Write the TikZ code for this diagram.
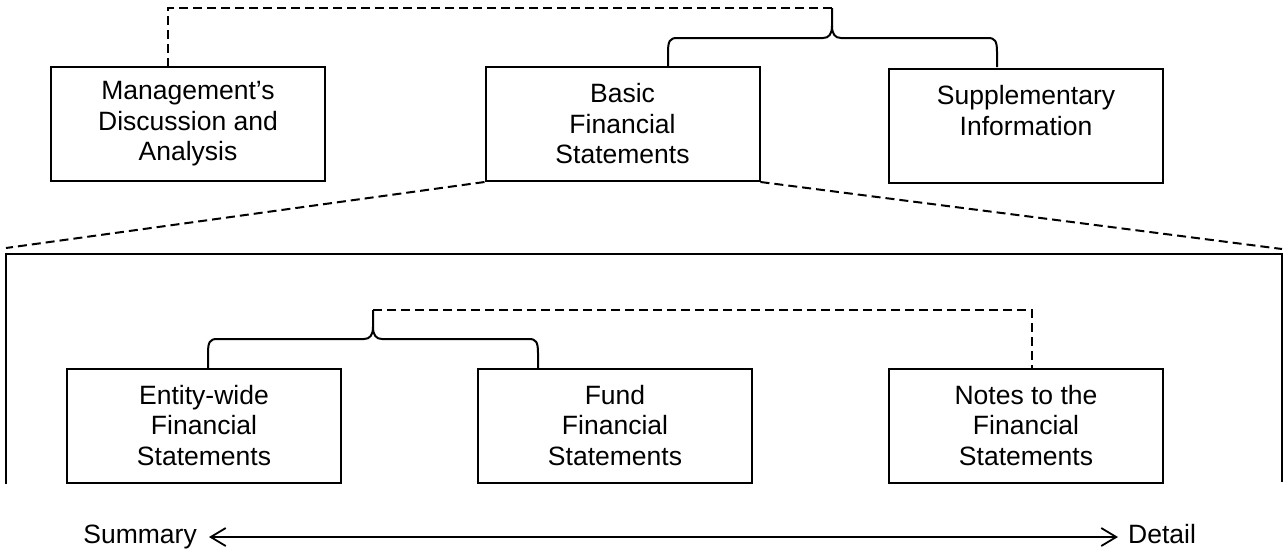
\documentclass[tikz,border=0pt]{standalone}
\usepackage{fontspec}
\setmainfont{Liberation Sans}
\usetikzlibrary{arrows.meta,calc}
\begin{document}
\begin{tikzpicture}[x=1pt,y=-1pt,
  box/.style={draw,line width=2pt,minimum width=274pt,minimum height=114pt,align=center,inner sep=0pt,font=\fontsize{26.5}{30.5}\selectfont},
  lbl/.style={inner sep=0pt,font=\fontsize{26.5}{30.5}\selectfont},
  dsh/.style={line width=2pt,dash pattern=on 9pt off 5pt},
  brc/.style={line width=2pt},
  frm/.style={line width=2pt},
  arr/.style={line width=1.8pt,{Straight Barb[length=15pt,width=18pt]}-{Straight Barb[length=15pt,width=18pt]}}]
\useasboundingbox (0,0) rectangle (1284,550);

% top row
\node[box] (mda) at (188,124) {Management’s\\Discussion and\\Analysis};
\node[box] (basic) at (622.5,124) {Basic\\Financial\\Statements};
\node[box] (supp) at (1026,125.5) {Supplementary\\Information\\\mbox{}};

% bottom row
\node[box] (entity) at (204,425.5) {Entity-wide\\Financial\\Statements};
\node[box] (fund) at (615,425.5) {Fund\\Financial\\Statements};
\node[box] (notes) at (1026,425.5) {Notes to the\\Financial\\Statements};

% frame
\coordinate (fbl) at (6,484);
\coordinate (ftl) at (6,254);
\coordinate (ftr) at (1282,254);
\coordinate (fbr) at (1282,482);
\draw[frm] (fbl) -- (ftl) -- (ftr) -- (fbr);

% slanted dashed lines
\coordinate (dl) at (6,248);
\coordinate (dr) at (1282,249);
\draw[dsh] (basic.south west) -- (dl);
\draw[dsh] (basic.south east) -- (dr);

% top brace
\coordinate (tt) at (832,8);
\coordinate (tbl) at (668,67);
\coordinate (tbr) at (997,67);
\draw[brc] (tbl) -- (668,52) .. controls (668,41) and (670,38) .. (677,38)
  -- (823,38) .. controls (829,38) and (832,34) .. (832,26) -- (tt);
\draw[brc] (832,26) .. controls (832,34) and (835,38) .. (841,38)
  -- (988,38) .. controls (995,38) and (997,41) .. (997,52) -- (tbr);
\draw[dsh] (tt) -| ($(mda.north)+(-20,0)$);

% bottom brace
\coordinate (bt) at (373,310);
\coordinate (bbl) at (208,368);
\coordinate (bbr) at (538,368);
\draw[brc] (bbl) -- (208,353) .. controls (208,342) and (210,339) .. (217,339)
  -- (364,339) .. controls (370,339) and (373,335) .. (373,327) -- (bt);
\draw[brc] (373,327) .. controls (373,335) and (376,339) .. (382,339)
  -- (529,339) .. controls (536,339) and (538,342) .. (538,353) -- (bbr);
\draw[dsh] (bt) -| ($(notes.north)+(6,0)$);

% summary / detail arrow
\node[lbl,anchor=base east] (summary) at (197,543) {Summary};
\node[lbl,anchor=base west] (detail) at (1128,543) {Detail};
\coordinate (al) at (209,537);
\coordinate (ar) at (1118,537);
\draw[arr] (al) -- (ar);
\end{tikzpicture}
\end{document}
